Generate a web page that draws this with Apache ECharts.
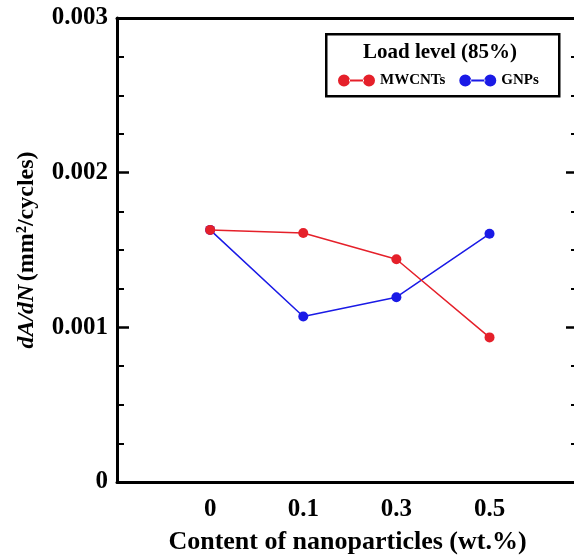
<!DOCTYPE html>
<html>
<head>
<meta charset="utf-8">
<script src="https://cdn.jsdelivr.net/npm/echarts@6/dist/echarts.min.js"></script>
<style>html,body{margin:0;padding:0;background:#fff}#c{width:574px;height:560px}</style>
</head>
<body>
<div id="c"></div>
<script>
var categories = ['0', '0.1', '0.3', '0.5'];
var mwcnts = [0.001630, 0.001610, 0.001440, 0.000935];
var gnps = [0.001630, 0.001070, 0.001195, 0.001605];
var yTicks = [0, 0.001, 0.002, 0.003];
var seriesNames = ['MWCNTs', 'GNPs'];

var FONT = '"Liberation Serif", "Times New Roman", serif';
function pts(arr) { return arr.map(function (v, i) { return [i + 1, v]; }); }
var legendIcon = 'path://M0,6 a6,6 0 1,0 12,0 a6,6 0 1,0 -12,0 Z M11,5 L26,5 L26,7 L11,7 Z M25,6 a6,6 0 1,0 12,0 a6,6 0 1,0 -12,0 Z';

var chart = echarts.init(document.getElementById('c'));
function yAxisBase() {
  return {
    type: 'value', min: 0, max: 0.003, interval: 0.001,
    splitLine: { show: false },
    axisLine: { show: true, onZero: false, lineStyle: { color: '#000', width: 3 } },
    axisTick: { show: true, inside: true, length: 12, lineStyle: { color: '#000', width: 2.5 } },
    minorTick: { show: true, splitNumber: 4, length: 7, lineStyle: { color: '#000', width: 2 } }
  };
}
var yLeft = yAxisBase();
yLeft.position = 'left';
yLeft.axisLabel = {
  margin: 9, fontFamily: FONT, fontWeight: 'bold', fontSize: 25, color: '#000',
  formatter: function (v) { for (var k = 0; k < yTicks.length; k++) { if (Math.abs(v - yTicks[k]) < 1e-9) return yTicks[k] === 0 ? '0' : yTicks[k].toFixed(3); } return ''; }
};
yLeft.name = '{i|dA/dN} {b|(mm²/cycles)}';
yLeft.nameLocation = 'middle';
yLeft.nameGap = 78;
yLeft.nameRotate = 90;
yLeft.nameTextStyle = {
  rich: {
    i: { fontFamily: FONT, fontWeight: 'bold', fontStyle: 'italic', fontSize: 24, color: '#000' },
    b: { fontFamily: FONT, fontWeight: 'bold', fontSize: 24, color: '#000' }
  }
};
var yRight = yAxisBase();
yRight.position = 'right';
yRight.axisLabel = { show: false };

chart.setOption({
  animation: false,
  backgroundColor: '#fff',
  grid: { left: 117, top: 18, width: 461, bottom: 78, containLabel: false, outerBoundsMode: 'none' },
  legend: {
    data: seriesNames, left: 338, top: 73, itemWidth: 37, itemHeight: 12, itemGap: 14,
    icon: legendIcon, padding: 0,
    textStyle: { fontFamily: FONT, fontWeight: 'bold', fontSize: 15, color: '#000' }
  },
  graphic: [
    { type: 'rect', left: 325, top: 33, shape: { width: 233, height: 62 }, style: { fill: '#fff', stroke: '#000', lineWidth: 2.5 }, z: 0 },
    { type: 'text', left: 363, top: 42, style: { text: 'Load level (85%)', font: 'bold 21px ' + FONT, fill: '#000' }, z: 1 }
  ],
  xAxis: [{
    type: 'value', min: 0, max: 4.95, interval: 1, position: 'bottom',
    splitLine: { show: false },
    axisLine: { show: true, onZero: false, lineStyle: { color: '#000', width: 3 } },
    axisTick: { show: false },
    axisLabel: {
      margin: 15, fontFamily: FONT, fontWeight: 'bold', fontSize: 25, color: '#000',
      formatter: function (v) { var i = Math.round(v) - 1; return (i >= 0 && i < categories.length && Math.abs(v - i - 1) < 1e-6) ? categories[i] : ''; }
    },
    name: 'Content of nanoparticles (wt.%)', nameLocation: 'middle', nameGap: 47,
    nameTextStyle: { fontFamily: FONT, fontWeight: 'bold', fontSize: 26, color: '#000' }
  }, {
    type: 'value', min: 0, max: 4.95, position: 'top',
    splitLine: { show: false }, axisTick: { show: false }, axisLabel: { show: false },
    axisLine: { show: true, onZero: false, lineStyle: { color: '#000', width: 3 } }
  }],
  yAxis: [yLeft, yRight],
  series: [{
    name: seriesNames[0], type: 'line', data: pts(mwcnts), xAxisIndex: 0, yAxisIndex: 0,
    symbol: 'circle', symbolSize: 10, color: '#e5202a',
    lineStyle: { width: 1.5, color: '#e5202a' }, itemStyle: { color: '#e5202a' }, z: 3
  }, {
    name: seriesNames[1], type: 'line', data: pts(gnps), xAxisIndex: 0, yAxisIndex: 0,
    symbol: 'circle', symbolSize: 10, color: '#1a1ae6',
    lineStyle: { width: 1.5, color: '#1a1ae6' }, itemStyle: { color: '#1a1ae6' }, z: 2
  }]
});
</script>
</body>
</html>
